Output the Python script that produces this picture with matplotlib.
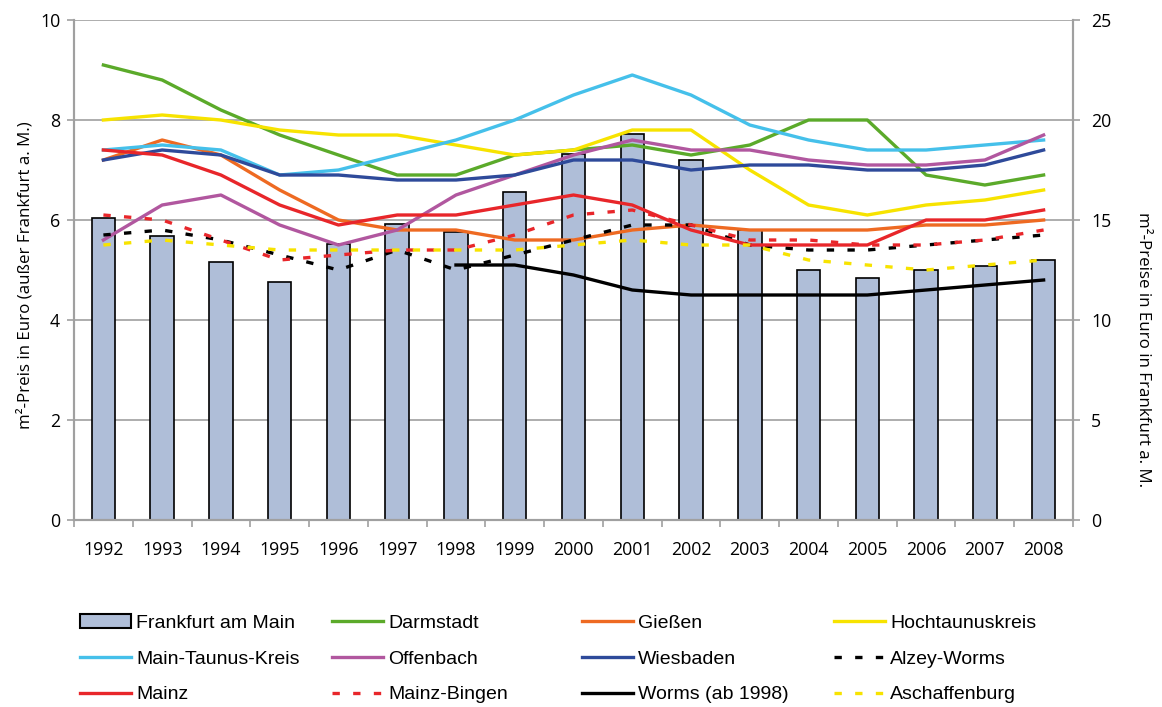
import numpy as np
import matplotlib.pyplot as plt
from matplotlib.patches import Patch

# Data
years = [str(y) for y in range(1992, 2009)]
frankfurt = [15.1, 14.2, 12.9, 11.9, 13.8, 14.8, 14.4, 16.4, 18.3, 19.3, 18.0, 14.5, 12.5, 12.1, 12.5, 12.7, 13.0]
darmstadt = [9.1, 8.8, 8.2, 7.7, 7.3, 6.9, 6.9, 7.3, 7.4, 7.5, 7.3, 7.5, 8.0, 8.0, 6.9, 6.7, 6.9]
giessen = [7.2, 7.6, 7.3, 6.6, 6.0, 5.8, 5.8, 5.6, 5.6, 5.8, 5.9, 5.8, 5.8, 5.8, 5.9, 5.9, 6.0]
hochtaunus = [8.0, 8.1, 8.0, 7.8, 7.7, 7.7, 7.5, 7.3, 7.4, 7.8, 7.8, 7.0, 6.3, 6.1, 6.3, 6.4, 6.6]
main_taunus = [7.4, 7.5, 7.4, 6.9, 7.0, 7.3, 7.6, 8.0, 8.5, 8.9, 8.5, 7.9, 7.6, 7.4, 7.4, 7.5, 7.6]
offenbach = [5.6, 6.3, 6.5, 5.9, 5.5, 5.8, 6.5, 6.9, 7.3, 7.6, 7.4, 7.4, 7.2, 7.1, 7.1, 7.2, 7.7]
wiesbaden = [7.2, 7.4, 7.3, 6.9, 6.9, 6.8, 6.8, 6.9, 7.2, 7.2, 7.0, 7.1, 7.1, 7.0, 7.0, 7.1, 7.4]
alzey_worms = [5.7, 5.8, 5.6, 5.3, 5.0, 5.4, 5.0, 5.3, 5.6, 5.9, 5.9, 5.5, 5.4, 5.4, 5.5, 5.6, 5.7]
mainz = [7.4, 7.3, 6.9, 6.3, 5.9, 6.1, 6.1, 6.3, 6.5, 6.3, 5.8, 5.5, 5.5, 5.5, 6.0, 6.0, 6.2]
mainz_bingen = [6.1, 6.0, 5.6, 5.2, 5.3, 5.4, 5.4, 5.7, 6.1, 6.2, 5.9, 5.6, 5.6, 5.5, 5.5, 5.6, 5.8]
worms = [np.nan] * 6 + [5.1, 5.1, 4.9, 4.6, 4.5, 4.5, 4.5, 4.5, 4.6, 4.7, 4.8]
aschaffenburg = [5.5, 5.6, 5.5, 5.4, 5.4, 5.4, 5.4, 5.4, 5.5, 5.6, 5.5, 5.5, 5.2, 5.1, 5.0, 5.1, 5.2]

plt.rcParams['font.family'] = ['Open Sans', 'DejaVu Sans']

fig = plt.figure(figsize=(11.62, 7.07), dpi=100)
ax = fig.add_axes([0.0637, 0.2645, 0.8597, 0.7072])
ax2 = ax.twinx()

x = np.arange(len(years))
grey = '#A0A0A0'
bar_col = '#AFBED8'

# bars on the right axis, behind the lines
ax2.bar(x, frankfurt, width=0.4, color=bar_col, edgecolor='black', linewidth=1.2, zorder=2)
ax2.set_ylim(0, 25)
ax2.set_yticks([0, 5, 10, 15, 20, 25])
ax2.grid(axis='y', color=grey, linewidth=1.2, zorder=0)
ax2.set_axisbelow(True)

ax.set_zorder(ax2.get_zorder() + 1)
ax.patch.set_visible(False)

lw = 2.4
dash = (2.2, 4.0)
series = [
    (darmstadt, '#5BAA2A', '-', 'Darmstadt'),
    (giessen, '#EE6A22', '-', 'Gießen'),
    (hochtaunus, '#F7E300', '-', 'Hochtaunuskreis'),
    (main_taunus, '#45C0EA', '-', 'Main-Taunus-Kreis'),
    (offenbach, '#B1579F', '-', 'Offenbach'),
    (wiesbaden, '#2E4A9A', '-', 'Wiesbaden'),
    (alzey_worms, 'black', '--', 'Alzey-Worms'),
    (mainz, '#E8262A', '-', 'Mainz'),
    (mainz_bingen, '#E8262A', '--', 'Mainz-Bingen'),
    (worms, 'black', '-', 'Worms (ab 1998)'),
    (aschaffenburg, '#F7E300', '--', 'Aschaffenburg'),
]
handles = {}
for vals, col, ls, name in series:
    if ls == '--':
        ln, = ax.plot(x, vals, color=col, lw=lw, dashes=dash, label=name)
    else:
        ln, = ax.plot(x, vals, color=col, lw=lw, label=name)
    handles[name] = ln

ax.set_ylim(0, 10)
ax.set_yticks([0, 2, 4, 6, 8, 10])
ax.set_xlim(-0.5, len(years) - 0.5)
ax.set_xticks(x)
ax.set_xticklabels(years)
ax.set_xticks(np.arange(-0.5, len(years)), minor=True)
ax.tick_params(axis='x', which='major', length=0, pad=15, labelsize=12.8)
ax.tick_params(axis='x', which='minor', length=5, color=grey, width=1.2)
ax.tick_params(axis='y', length=5, color=grey, width=1.2, pad=5, labelsize=12.8)
ax2.tick_params(axis='y', length=5, color=grey, width=1.2, pad=8, labelsize=12.8)

for a in (ax, ax2):
    a.spines['top'].set_visible(False)
    for s in ('left', 'right', 'bottom'):
        a.spines[s].set_color(grey)
        a.spines[s].set_linewidth(1.5)

ax.set_ylabel('m²-Preis in Euro (außer Frankfurt a. M.)', fontsize=12.2)
ax.yaxis.set_label_coords(-0.041, 0.49)
ax2.set_ylabel('m²-Preise in Euro in Frankfurt a. M.', fontsize=12.2, rotation=270)
ax2.yaxis.set_label_coords(1.078, 0.34)

# legend: four separate columns like the original layout
bar_handle = Patch(facecolor=bar_col, edgecolor='black', linewidth=1.5)
columns = [
    (['Frankfurt am Main', 'Main-Taunus-Kreis', 'Mainz'], 80),
    (['Darmstadt', 'Offenbach', 'Mainz-Bingen'], 332),
    (['Gießen', 'Wiesbaden', 'Worms (ab 1998)'], 582),
    (['Hochtaunuskreis', 'Alzey-Worms', 'Aschaffenburg'], 834),
]
for names, xpix in columns:
    hs = [bar_handle if n == 'Frankfurt am Main' else handles[n] for n in names]
    fig.legend(hs, names, loc='upper left', bbox_to_anchor=(xpix / 1162, 1 - 614 / 707),
               frameon=False, handlelength=2.6, handleheight=0.7,
               handletextpad=0.3, labelspacing=0.94, borderaxespad=0, borderpad=0,
               prop={'family': ['Liberation Sans', 'DejaVu Sans'], 'size': 14})

fig.savefig('out.png', dpi=100)
